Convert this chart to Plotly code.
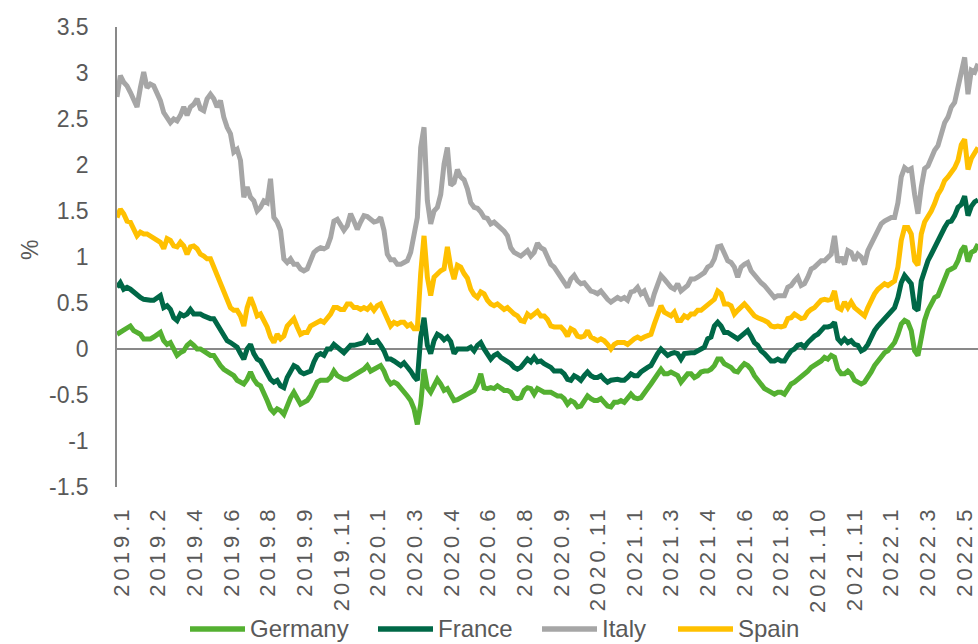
import plotly.graph_objects as go

# 10-year government bond yields (%), sampled at regular intervals along the category axis
germany = [
    0.16, 0.18, 0.20, 0.22, 0.25, 0.20, 0.18, 0.16, 0.11, 0.11, 0.11, 0.13, 0.16, 0.18, 0.09, 0.05, 0.07, 0.00, -0.07, -0.04,
    -0.02, 0.04, 0.07, 0.04, 0.00, 0.00, -0.02, -0.05, -0.07, -0.07, -0.13, -0.18, -0.22, -0.24, -0.27, -0.29, -0.34, -0.36, -0.38, -0.33,
    -0.25, -0.33, -0.38,
    -0.40, -0.47, -0.56, -0.65, -0.69, -0.65, -0.67, -0.71, -0.60, -0.53, -0.47, -0.54, -0.60, -0.58, -0.56, -0.51, -0.42, -0.36, -0.34, -0.34,
    -0.34, -0.31, -0.24, -0.29, -0.31, -0.33, -0.33, -0.31, -0.29, -0.27, -0.25, -0.22, -0.18, -0.24, -0.22, -0.20, -0.18, -0.24, -0.33, -0.38,
    -0.36, -0.38, -0.42,
    -0.45, -0.51, -0.56, -0.65, -0.82, -0.60, -0.22, -0.42, -0.47, -0.40, -0.33, -0.38, -0.45, -0.43, -0.49, -0.56, -0.55, -0.53, -0.51, -0.49,
    -0.47, -0.45, -0.38, -0.27, -0.42, -0.43, -0.42, -0.43, -0.40, -0.42, -0.45, -0.45, -0.47, -0.53, -0.54, -0.53, -0.45, -0.42, -0.43, -0.49,
    -0.43, -0.45, -0.47, -0.47,
    -0.47, -0.49, -0.51, -0.51, -0.54, -0.60, -0.56, -0.58, -0.63, -0.62, -0.56, -0.51, -0.54, -0.56, -0.56, -0.54, -0.58, -0.62, -0.63, -0.58,
    -0.58, -0.56, -0.58, -0.53, -0.49, -0.53, -0.54, -0.53, -0.49, -0.43, -0.38, -0.33, -0.27, -0.22, -0.27, -0.27, -0.25, -0.27, -0.29, -0.36,
    -0.31, -0.27, -0.27,
    -0.31, -0.29, -0.25, -0.24, -0.24, -0.22, -0.18, -0.11, -0.11, -0.16, -0.18, -0.20, -0.24, -0.25, -0.20, -0.16, -0.18, -0.22, -0.29, -0.34,
    -0.40, -0.43, -0.45, -0.47, -0.49, -0.47, -0.47, -0.49, -0.43, -0.38, -0.36, -0.33, -0.31, -0.27, -0.24, -0.20, -0.18, -0.16, -0.13, -0.09,
    -0.11, -0.07, -0.09, -0.22,
    -0.27, -0.27, -0.24, -0.27, -0.34, -0.36, -0.38, -0.36, -0.31, -0.25, -0.18, -0.13, -0.09, -0.04, -0.02, 0.02, 0.07, 0.16, 0.27, 0.31,
    0.29, 0.20, -0.02, -0.07, 0.16, 0.31, 0.42, 0.49, 0.56, 0.58, 0.67, 0.76, 0.85, 0.87, 0.89, 0.96, 1.07, 1.12, 0.95, 1.05,
    1.07, 1.14,
]

france = [
    0.67, 0.72, 0.65, 0.67, 0.65, 0.62, 0.58, 0.56, 0.54, 0.53, 0.53, 0.53, 0.56, 0.58, 0.45, 0.47, 0.43, 0.34, 0.31, 0.38,
    0.36, 0.38, 0.43, 0.38, 0.38, 0.38, 0.36, 0.34, 0.33, 0.33, 0.27, 0.22, 0.16, 0.09, 0.07, 0.04, 0.02, -0.05, -0.11, 0.00,
    0.05, -0.05, -0.11,
    -0.13, -0.20, -0.27, -0.33, -0.36, -0.34, -0.40, -0.42, -0.31, -0.25, -0.18, -0.20, -0.25, -0.27, -0.25, -0.24, -0.14, -0.07, -0.05, -0.07,
    0.00, 0.00, 0.05, 0.02, 0.00, -0.04, 0.00, 0.04, 0.04, 0.05, 0.07, 0.07, 0.13, 0.07, 0.07, 0.09, 0.04, -0.02, -0.11, -0.11,
    -0.13, -0.16, -0.18,
    -0.15, -0.19, -0.24, -0.30, -0.34, 0.13, 0.34, 0.04, -0.05, 0.09, 0.16, 0.14, 0.10, 0.13, 0.08, -0.05, 0.00, 0.00, 0.00, 0.00,
    0.02, -0.02, 0.04, 0.07, 0.00, -0.05, -0.11, -0.07, -0.05, -0.09, -0.11, -0.13, -0.16, -0.20, -0.22, -0.20, -0.16, -0.11, -0.14, -0.09,
    -0.14, -0.13, -0.16, -0.18,
    -0.20, -0.24, -0.24, -0.24, -0.27, -0.33, -0.34, -0.29, -0.31, -0.34, -0.29, -0.25, -0.29, -0.31, -0.31, -0.29, -0.33, -0.36, -0.34, -0.33,
    -0.33, -0.34, -0.34, -0.31, -0.27, -0.29, -0.29, -0.25, -0.22, -0.20, -0.18, -0.11, -0.05, 0.00, -0.04, -0.07, -0.05, -0.04, -0.05, -0.11,
    -0.05, -0.04, -0.04,
    -0.04, -0.02, 0.00, 0.02, 0.11, 0.13, 0.25, 0.29, 0.25, 0.18, 0.18, 0.16, 0.13, 0.11, 0.14, 0.18, 0.20, 0.14, 0.07, 0.04,
    -0.02, -0.05, -0.09, -0.13, -0.13, -0.11, -0.13, -0.13, -0.07, -0.02, 0.00, 0.04, 0.05, 0.02, 0.07, 0.11, 0.14, 0.16, 0.20, 0.24,
    0.24, 0.25, 0.29, 0.11,
    0.07, 0.11, 0.07, 0.09, 0.05, 0.04, -0.02, 0.00, 0.05, 0.14, 0.20, 0.25, 0.29, 0.34, 0.36, 0.40, 0.45, 0.56, 0.72, 0.80,
    0.76, 0.71, 0.45, 0.42, 0.74, 0.87, 0.96, 1.03, 1.11, 1.18, 1.25, 1.32, 1.38, 1.39, 1.45, 1.54, 1.57, 1.66, 1.45, 1.55,
    1.60, 1.62,
]

italy = [
    2.74, 2.97, 2.90, 2.86, 2.79, 2.72, 2.63, 2.84, 3.01, 2.84, 2.88, 2.86, 2.79, 2.70, 2.57, 2.52, 2.46, 2.50, 2.48, 2.54,
    2.63, 2.54, 2.63, 2.66, 2.72, 2.61, 2.59, 2.72, 2.77, 2.72, 2.63, 2.70, 2.52, 2.41, 2.34, 2.14, 2.17, 2.05, 1.65, 1.76,
    1.65, 1.61, 1.50,
    1.54, 1.61, 1.59, 1.85, 1.43, 1.38, 1.29, 0.98, 0.94, 0.98, 0.92, 0.92, 0.87, 0.85, 0.87, 0.96, 1.05, 1.08, 1.10, 1.09,
    1.11, 1.21, 1.39, 1.41, 1.34, 1.29, 1.34, 1.47, 1.39, 1.30, 1.38, 1.45, 1.44, 1.41, 1.38, 1.39, 1.43, 1.29, 1.03, 0.97,
    0.97, 0.92, 0.92,
    0.94, 0.96, 1.05, 1.21, 1.43, 2.19, 2.41, 1.61, 1.36, 1.50, 1.54, 1.68, 2.01, 2.19, 1.78, 1.81, 1.95, 1.87, 1.84, 1.74,
    1.59, 1.54, 1.53, 1.49, 1.43, 1.42, 1.36, 1.38, 1.35, 1.32, 1.28, 1.23, 1.10, 1.05, 1.03, 1.01, 1.04, 1.07, 1.01, 1.05,
    1.15, 1.10, 1.08, 1.01,
    0.92, 0.89, 0.83, 0.78, 0.71, 0.67, 0.76, 0.80, 0.74, 0.71, 0.72, 0.67, 0.63, 0.62, 0.60, 0.63, 0.58, 0.54, 0.51, 0.54,
    0.56, 0.54, 0.56, 0.53, 0.62, 0.63, 0.67, 0.60, 0.63, 0.54, 0.47, 0.60, 0.69, 0.80, 0.76, 0.71, 0.67, 0.65, 0.71, 0.63,
    0.67, 0.69, 0.76,
    0.76, 0.78, 0.80, 0.83, 0.89, 0.91, 0.98, 1.11, 1.12, 1.03, 0.96, 0.94, 0.89, 0.78, 0.89, 0.92, 0.94, 0.85, 0.80, 0.76,
    0.72, 0.69, 0.65, 0.62, 0.56, 0.58, 0.58, 0.58, 0.67, 0.69, 0.74, 0.78, 0.69, 0.71, 0.78, 0.87, 0.89, 0.92, 0.96, 0.96,
    1.00, 1.03, 1.23, 0.94,
    1.00, 0.92, 1.07, 1.05, 0.96, 1.03, 1.00, 0.92, 1.07, 1.14, 1.21, 1.29, 1.36, 1.39, 1.41, 1.43, 1.43, 1.59, 1.87, 1.97,
    1.94, 1.96, 1.68, 1.47, 1.76, 1.96, 1.99, 2.08, 2.16, 2.21, 2.32, 2.46, 2.52, 2.63, 2.68, 2.84, 3.03, 3.17, 2.77, 3.03,
    3.01, 3.10,
]

spain = [
    1.43, 1.52, 1.47, 1.39, 1.38, 1.29, 1.23, 1.27, 1.25, 1.25, 1.23, 1.20, 1.18, 1.16, 1.09, 1.20, 1.18, 1.12, 1.11, 1.16,
    1.12, 1.03, 1.11, 1.12, 1.09, 1.03, 1.01, 0.98, 0.98, 0.89, 0.83, 0.74, 0.63, 0.53, 0.45, 0.42, 0.42, 0.36, 0.25, 0.45,
    0.56, 0.47, 0.36,
    0.38, 0.31, 0.24, 0.13, 0.07, 0.16, 0.11, 0.14, 0.25, 0.29, 0.33, 0.24, 0.16, 0.18, 0.18, 0.25, 0.27, 0.29, 0.31, 0.29,
    0.33, 0.38, 0.45, 0.45, 0.43, 0.43, 0.49, 0.49, 0.45, 0.45, 0.43, 0.45, 0.43, 0.47, 0.42, 0.47, 0.49, 0.40, 0.31, 0.25,
    0.29, 0.27, 0.29,
    0.29, 0.25, 0.27, 0.22, 0.22, 0.82, 1.23, 0.78, 0.58, 0.78, 0.82, 0.85, 0.87, 1.11, 0.89, 0.76, 0.91, 0.89, 0.82, 0.77,
    0.65, 0.59, 0.56, 0.62, 0.60, 0.53, 0.49, 0.47, 0.49, 0.45, 0.43, 0.45, 0.41, 0.38, 0.36, 0.31, 0.30, 0.38, 0.35, 0.39,
    0.41, 0.36, 0.36, 0.32,
    0.25, 0.24, 0.24, 0.24, 0.20, 0.14, 0.22, 0.20, 0.14, 0.13, 0.14, 0.20, 0.13, 0.11, 0.09, 0.11, 0.09, 0.05, 0.00, 0.05,
    0.07, 0.07, 0.07, 0.05, 0.09, 0.11, 0.13, 0.11, 0.13, 0.14, 0.16, 0.27, 0.38, 0.47, 0.40, 0.38, 0.36, 0.40, 0.31, 0.31,
    0.36, 0.34, 0.38,
    0.38, 0.42, 0.42, 0.45, 0.47, 0.51, 0.54, 0.63, 0.60, 0.49, 0.49, 0.47, 0.38, 0.42, 0.45, 0.49, 0.45, 0.40, 0.36, 0.34,
    0.33, 0.31, 0.29, 0.25, 0.24, 0.25, 0.24, 0.25, 0.33, 0.34, 0.38, 0.36, 0.33, 0.34, 0.40, 0.43, 0.45, 0.49, 0.53, 0.54,
    0.53, 0.54, 0.63, 0.45,
    0.43, 0.51, 0.45, 0.51, 0.45, 0.42, 0.38, 0.36, 0.45, 0.53, 0.60, 0.65, 0.69, 0.71, 0.69, 0.71, 0.74, 0.89, 1.18, 1.32,
    1.32, 1.25, 0.96, 0.91, 1.25, 1.38, 1.43, 1.50, 1.58, 1.68, 1.74, 1.83, 1.87, 1.92, 1.97, 2.05, 2.22, 2.28, 1.95, 2.07,
    2.12, 2.19,
]

tick_labels = [
    "2019.1", "2019.2", "2019.4", "2019.6", "2019.8", "2019.9", "2019.11", "2020.1",
    "2020.3", "2020.4", "2020.6", "2020.8", "2020.9", "2020.11", "2021.1", "2021.3",
    "2021.4", "2021.6", "2021.8", "2021.10", "2021.11", "2022.1", "2022.3", "2022.5",
]

series_names = ["Germany", "France", "Italy", "Spain"]
series_values = [germany, france, italy, spain]
series_colors = ["#54B031", "#006847", "#A6A6A6", "#FFC000"]

TICK_START = 1.4   # category index of first labelled observation
TICK_STEP = 10.98  # observations between labels

W, H = 978, 644
ML, MR, MT, MB = 117, 0, 27, 157
PW, PH = W - ML - MR, H - MT - MB


def px_x(px):
    return (px - ML) / PW


def px_y(py):
    return (H - MB - py) / PH


fig = go.Figure()
for name, vals, col in zip(series_names, series_values, series_colors):
    fig.add_trace(go.Scatter(
        x=list(range(len(vals))), y=vals, name=name, mode="lines",
        line=dict(color=col, width=5), showlegend=False,
    ))

# custom legend (line swatch + label), positioned like the original
legend_line_px = [(190, 245), (378, 433), (542, 597), (678, 733)]
LEG_Y = 628
shapes, annotations = [], []
for (x0, x1), name, col in zip(legend_line_px, series_names, series_colors):
    shapes.append(dict(type="line", xref="paper", yref="paper",
                       x0=px_x(x0), x1=px_x(x1), y0=px_y(LEG_Y + 1), y1=px_y(LEG_Y + 1),
                       line=dict(color=col, width=5.5)))
    annotations.append(dict(text=name, xref="paper", yref="paper", x=px_x(x1 + 3), y=px_y(LEG_Y),
                            xanchor="left", yanchor="middle", showarrow=False,
                            font=dict(size=24, color="#595959")))

annotations.append(dict(text="%", xref="paper", yref="paper", x=px_x(30), y=px_y(250),
                        xanchor="center", yanchor="middle", showarrow=False, textangle=-90,
                        font=dict(size=23, color="#595959")))

n = max(len(v) for v in series_values)
tickvals = [TICK_START + TICK_STEP * i for i in range(len(tick_labels))]
ytv = [-1.5, -1, -0.5, 0, 0.5, 1, 1.5, 2, 2.5, 3, 3.5]

fig.update_layout(
    width=W, height=H,
    margin=dict(l=ML, r=MR, t=MT, b=MB, autoexpand=False),
    paper_bgcolor="white", plot_bgcolor="white",
    font=dict(family="Liberation Sans, Arial, sans-serif", color="#595959", size=22),
    showlegend=False,
    xaxis=dict(range=[0, n - 1], tickmode="array", tickvals=tickvals, ticktext=tick_labels,
               tickangle=-90, showgrid=False, zeroline=False, showline=False, ticks="",
               tickfont=dict(size=22, color="#595959"), ticklabelstandoff=13, automargin=False),
    yaxis=dict(range=[-1.5, 3.5], tickmode="array", tickvals=ytv,
               ticktext=[f"{v:g}" for v in ytv], showgrid=False,
               zeroline=True, zerolinecolor="#898989", zerolinewidth=1.5,
               showline=True, linecolor="#898989", linewidth=1.5, ticks="",
               tickfont=dict(size=23, color="#595959"), ticklabelstandoff=22, automargin=False),
    shapes=shapes,
    annotations=annotations,
)

post = """
document.body.style.margin='0';
document.querySelectorAll('.xtick text').forEach(function(t){ t.style.letterSpacing='4px'; });
"""
fig.write_html("out.html", post_script=post, config={"displayModeBar": False})
